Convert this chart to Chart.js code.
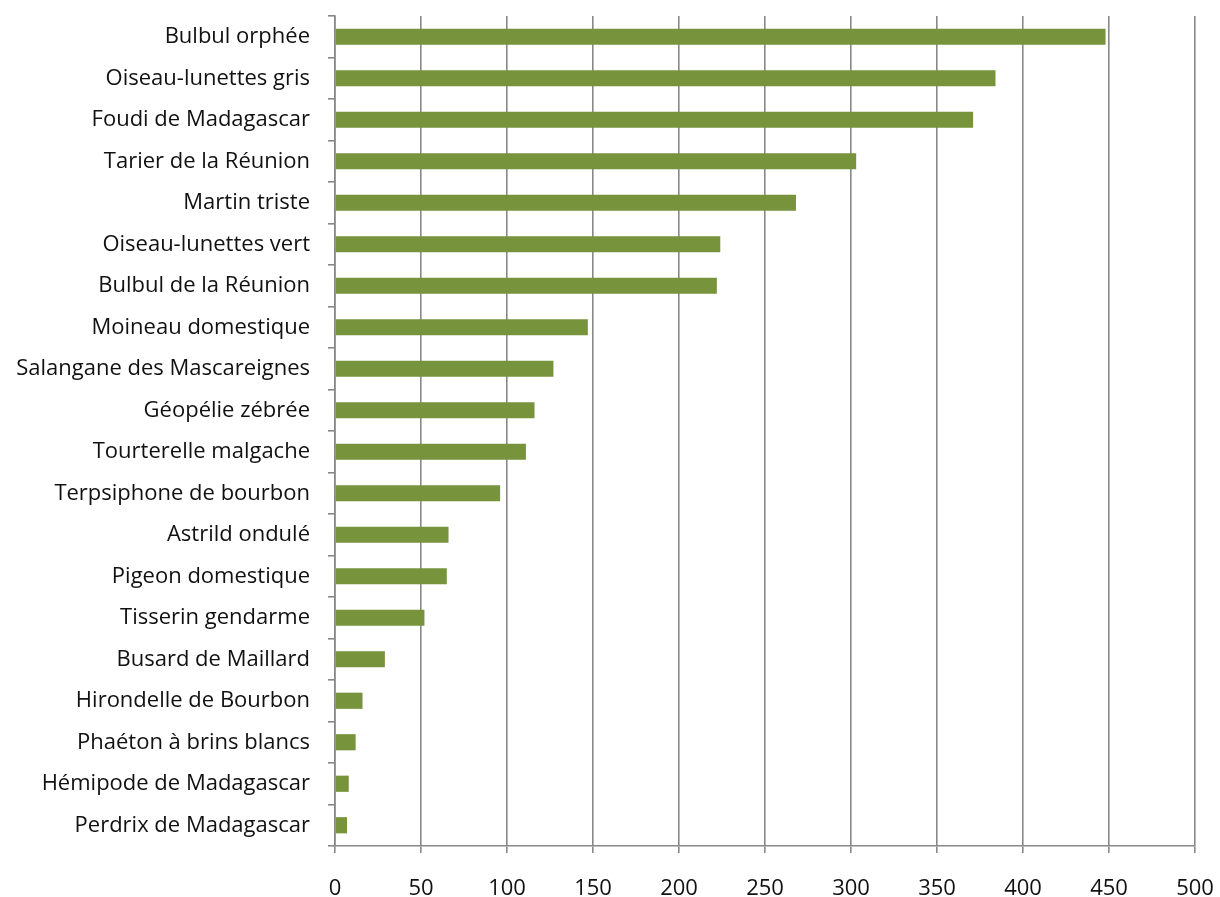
<!DOCTYPE html>
<html>
<head>
<meta charset="utf-8">
<script src="https://cdn.jsdelivr.net/npm/chart.js@4"></script>
<style>
html,body{margin:0;padding:0;background:#fff;}
#wrap{width:1220px;height:897px;position:relative;}
</style>
</head>
<body>
<div id="wrap"><canvas id="c"></canvas></div>
<script>
const categories = [
  "Bulbul orphée",
  "Oiseau-lunettes gris",
  "Foudi de Madagascar",
  "Tarier de la Réunion",
  "Martin triste",
  "Oiseau-lunettes vert",
  "Bulbul de la Réunion",
  "Moineau domestique",
  "Salangane des Mascareignes",
  "Géopélie zébrée",
  "Tourterelle malgache",
  "Terpsiphone de bourbon",
  "Astrild ondulé",
  "Pigeon domestique",
  "Tisserin gendarme",
  "Busard de Maillard",
  "Hirondelle de Bourbon",
  "Phaéton à brins blancs",
  "Hémipode de Madagascar",
  "Perdrix de Madagascar"
];
const counts = [448, 384, 371, 303, 268, 224, 222, 147, 127, 116, 111, 96, 66, 65, 52, 29, 16, 12, 8, 7];
const xMin = 0, xMax = 500, xStep = 50;

const gridColor = '#888888';
const textColor = '#111111';
const fontFamily = 'Open Sans, sans-serif';

new Chart(document.getElementById('c'), {
  type: 'bar',
  data: {
    labels: categories,
    datasets: [{
      data: counts,
      backgroundColor: '#77933C',
      borderWidth: 0,
      categoryPercentage: 1,
      barPercentage: 0.39
    }]
  },
  options: {
    indexAxis: 'y',
    responsive: true,
    maintainAspectRatio: false,
    animation: false,
    layout: { padding: { top: 16, right: 25, left: 0, bottom: 0 } },
    plugins: { legend: { display: false }, tooltip: { enabled: false } },
    scales: {
      x: {
        min: xMin, max: xMax,
        ticks: { stepSize: xStep, color: textColor, font: { family: fontFamily, size: 22 }, padding: 23 },
        grid: { color: gridColor, lineWidth: 1.6, tickLength: 7, drawTicks: true },
        border: { color: gridColor, width: 1.6 },
        afterFit: s => { s.height = 51; s.paddingLeft = 0; s.paddingRight = 0; }
      },
      y: {
        ticks: { color: textColor, font: { family: fontFamily, size: 22 }, padding: 18, autoSkip: false },
        grid: { color: gridColor, lineWidth: 1.6, tickLength: 7, drawOnChartArea: false, offset: true },
        border: { color: gridColor, width: 1.6 },
        afterFit: s => { s.width = 335; s.paddingTop = 0; s.paddingBottom = 0; }
      }
    }
  }
});
</script>
</body>
</html>
